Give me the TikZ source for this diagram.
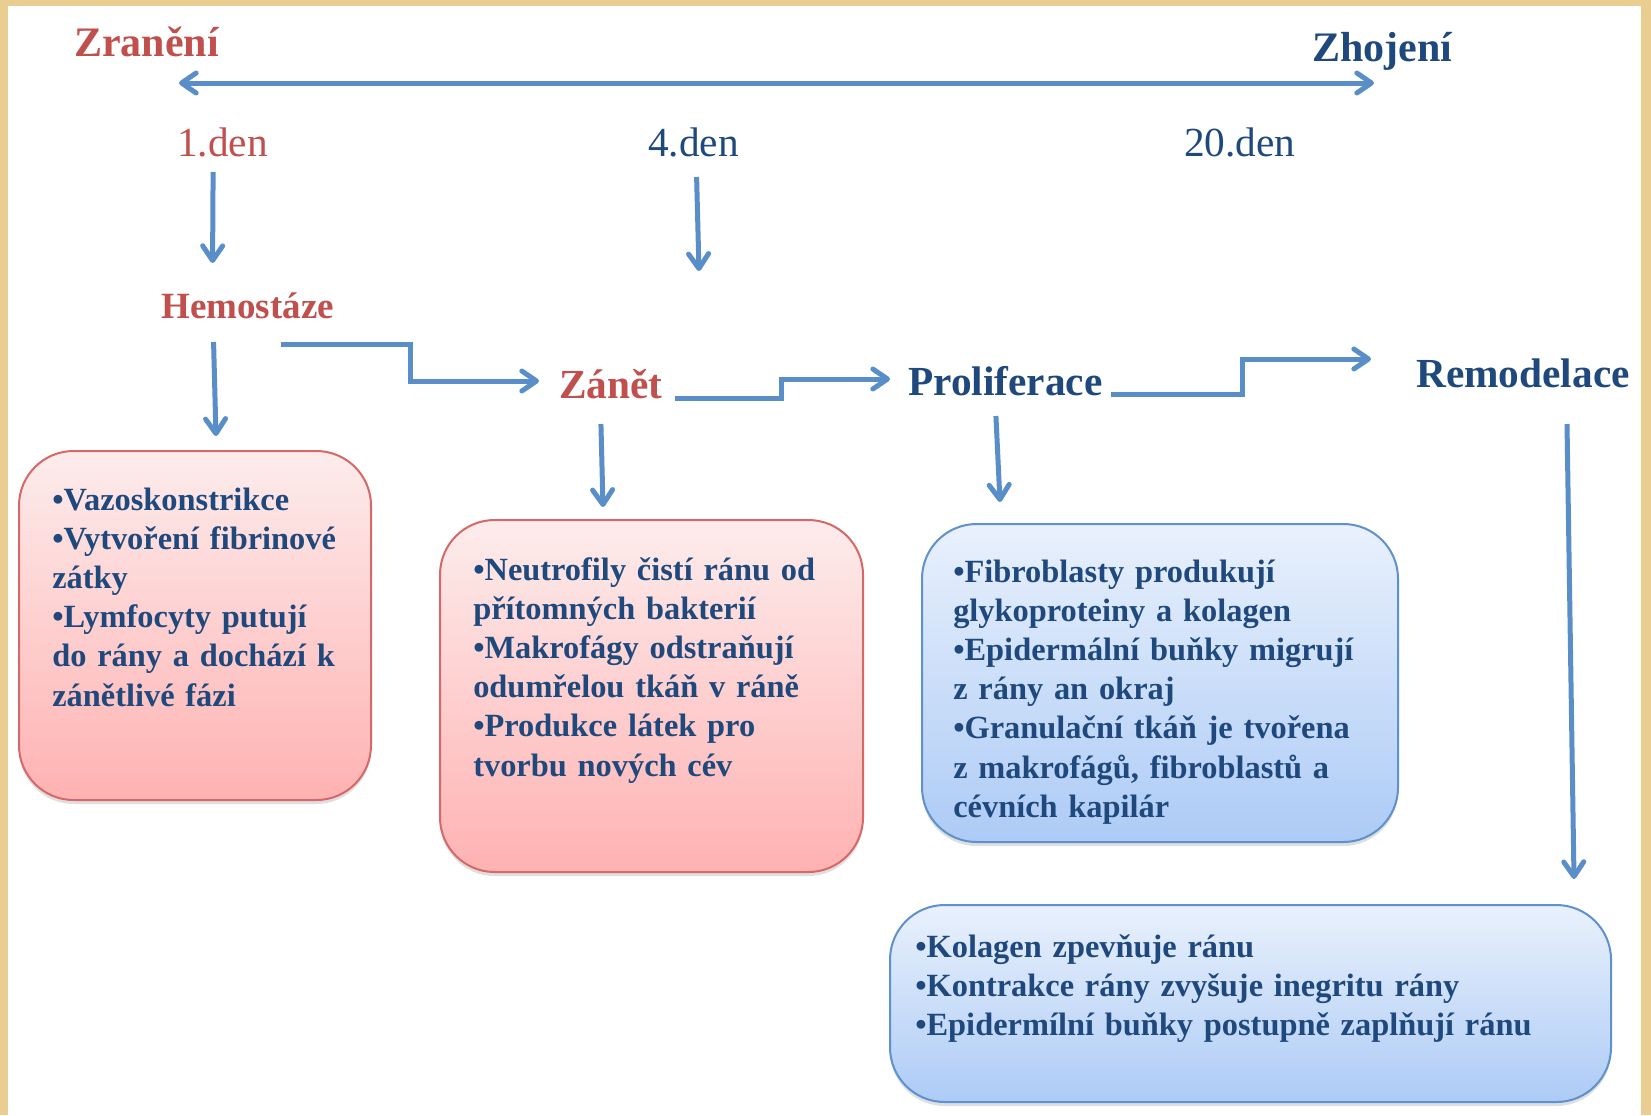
\documentclass[tikz,border=0pt]{standalone}
\usepackage{fontspec}
\setmainfont{Liberation Serif}
\usetikzlibrary{calc,arrows.meta,shadows}
\definecolor{ranared}{RGB}{192,80,77}
\definecolor{ranablue}{RGB}{31,73,125}
\definecolor{sipka}{RGB}{90,142,200}
\definecolor{ramec}{RGB}{233,205,145}
\definecolor{cervlin}{RGB}{214,104,104}
\definecolor{modrlin}{RGB}{95,145,205}
\tikzset{
  sip/.style={draw=sipka, line width=3.75pt, -{Straight Barb[length=11pt,width=15pt,round]}},
  nadpis/.style={inner sep=0pt, anchor=base west, font=\fontsize{31.5}{36}\selectfont\bfseries},
  den/.style={inner sep=0pt, anchor=base west, font=\fontsize{31}{36}\selectfont},
  krabice/.style={rounded corners=41pt, line width=1.5pt,
    drop shadow={shadow xshift=0pt, shadow yshift=-3pt, opacity=0.25}},
  cervbox/.style={krabice, draw=cervlin, top color={rgb,255:red,253;green,236;blue,236}, bottom color={rgb,255:red,255;green,178;blue,178}},
  modrbox/.style={krabice, draw=modrlin, top color={rgb,255:red,233;green,241;blue,252}, bottom color={rgb,255:red,173;green,203;blue,246}},
  popis/.style={inner sep=0pt, anchor=base west, align=left, text width=600pt, text=ranablue,
    font=\fontsize{24.3}{29.4}\selectfont\bfseries}
}
\begin{document}
\begin{tikzpicture}[x=0.75pt, y=-0.75pt]
  \useasboundingbox (0,0) rectangle (1651,1115);
  % ramecek
  \fill[ramec] (0,0) rectangle (1651,1115);
  \fill[white] (8,6) rectangle (1641,1115);

  % casova osa
  \node[nadpis, text=ranared] (zran) at (74,56) {Zranění};
  \node[nadpis, text=ranablue] (zhoj) at (1312,61) {Zhojení};
  \draw[sip, {Straight Barb[length=11pt,width=15pt,round]}-{Straight Barb[length=11pt,width=15pt,round]}]
    ($(zran.base west)+(105,27)$) -- ($(zhoj.base west)+(62,22)$);

  % dny
  \node[den, text=ranared] (d1) at (177,156) {1.den};
  \node[den, text=ranablue] (d4) at (648,156) {4.den};
  \node[den, text=ranablue] (d20) at (1184,156) {20.den};

  % faze hojeni
  \node[nadpis, text=ranared, font=\fontsize{27.75}{32}\selectfont\bfseries] (hem) at (161,318) {Hemostáze};
  \node[nadpis, text=ranared, font=\fontsize{31}{36}\selectfont\bfseries] (zan) at (559,398) {Zánět};
  \node[nadpis, text=ranablue, font=\fontsize{31}{36}\selectfont\bfseries] (prol) at (908,395) {Proliferace};
  \node[nadpis, text=ranablue, font=\fontsize{31}{36}\selectfont\bfseries] (rem) at (1416,387) {Remodelace};

  % krabice
  \node[cervbox, minimum width=264pt, minimum height=261.75pt] (box1) at (195,625.5) {};
  \node[cervbox, minimum width=317.25pt, minimum height=264pt] (box2) at (651.5,696) {};
  \node[modrbox, minimum width=357pt, minimum height=238.5pt] (box3) at (1160,683) {};
  \node[modrbox, minimum width=540.75pt, minimum height=147.75pt] (box4) at (1250.5,1003.5) {};

  \node[popis] (t1) at ($(box1.north west)+(34,60)$)
    {•Vazoskonstrikce\\•Vytvoření fibrinové\\zátky\\•Lymfocyty putují\\do rány a dochází k\\zánětlivé fázi};
  \node[popis] (t2) at ($(box2.north west)+(34,61)$)
    {•Neutrofily čistí ránu od\\přítomných bakterií\\•Makrofágy odstraňují\\odumřelou tkáň v ráně\\•Produkce látek pro\\tvorbu nových cév};
  \node[popis] (t3) at ($(box3.north west)+(32,59)$)
    {•Fibroblasty produkují\\glykoproteiny a kolagen\\•Epidermální buňky migrují\\z rány an okraj\\•Granulační tkáň je tvořena\\z makrofágů, fibroblastů a\\cévních kapilár};
  \node[popis] (t4) at ($(box4.north west)+(26,53)$)
    {•Kolagen zpevňuje ránu\\•Kontrakce rány zvyšuje inegritu rány\\•Epidermílní buňky postupně zaplňují ránu};

  % sipky dolu
  \coordinate (k4) at (699,271);
  \draw[sip] ($(d1.base)+(-9.5,16)$) -- ($(hem.base)+(-35,-55)$);
  \draw[sip] ($(d4.base)+(3,21)$) -- (k4);
  \draw[sip] ($(hem.base)+(-34,24)$) -- ($(box1.north)+(21,-14)$);
  \draw[sip] ($(zan.base)+(-10,26)$) -- ($(box2.north)+(-48.5,-12)$);
  \draw[sip] ($(prol.base)+(-9.5,21)$) -- ($(box3.north)+(-160,-21)$);
  \draw[sip] ($(rem.base)+(44,37)$) -- ($(box4.north east)+(-38,-25)$);

  % schody mezi fazemi
  \draw[sip] ($(hem.base)+(33,26)$) -- ++(130,0) |- ($(zan.base west)+(-20,-17)$);
  \draw[sip] ($(zan.base east)+(12,0)$) -- ++(107,0) |- ($(prol.base west)+(-18,-16)$);
  \draw[sip] ($(prol.base east)+(8,-1)$) -- ++(132,0) |- ($(rem.base west)+(-45,-28)$);
\end{tikzpicture}
\end{document}
